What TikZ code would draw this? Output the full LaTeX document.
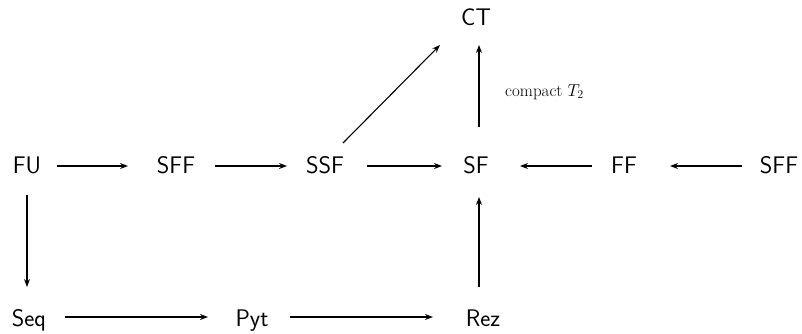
\documentclass[tikz,border=0pt]{standalone}
\usetikzlibrary{arrows.meta,calc}
\begin{document}
\begin{tikzpicture}[x=1pt,y=-1pt,
  lab/.style={font=\fontsize{24}{28}\sffamily, inner sep=0pt, anchor=base},
  arr/.style={line width=1.1pt, -{Stealth[length=8pt,width=6pt]}}]
\useasboundingbox (0,0) rectangle (802,333);
\node[lab] (CT) at (476,25) {CT};
\node[lab] (FU) at (27,173) {FU};
\node[lab] (SFFa) at (176,173) {SFF};
\node[lab] (SSF) at (325,173) {SSF};
\node[lab] (SF) at (476,173) {SF};
\node[lab] (FF) at (624,173) {FF};
\node[lab] (SFFb) at (779,173) {SFF};
\node[lab] (Seq) at (29,326) {Seq};
\node[lab] (Pyt) at (252,326) {Pyt};
\node[lab] (Rez) at (483,326) {Rez};
\node[font=\fontsize{17}{20}\selectfont, anchor=base west, inner sep=0pt] (lbl) at (505,96) {compact $T_2$};
\draw[arr] ($(FU.base)+(30,-7)$) -- ($(SFFa.base)+(-48,-7)$);
\draw[arr] ($(SFFa.base)+(39,-7)$) -- ($(SSF.base)+(-38,-7)$);
\draw[arr] ($(SSF.base)+(42,-7)$) -- ($(SF.base)+(-34,-7)$);
\draw[arr] ($(FF.base)+(-32,-7)$) -- ($(SF.base)+(44,-7)$);
\draw[arr] ($(SFFb.base)+(-37,-7)$) -- ($(FF.base)+(46,-7)$);
\draw[arr] ($(FU.base)+(0,22)$) -- ($(Seq.base)+(-2,-39)$);
\draw[arr] ($(Rez.base)+(-4,-39)$) -- ($(SF.base)+(3,24)$);
\draw[arr] ($(SF.base)+(3,-46)$) -- ($(CT.base)+(3,20)$);
\draw[arr] ($(SSF.base)+(18,-30)$) -- ($(CT.base)+(-36,20)$);
\draw[arr] ($(Seq.base)+(36,-9)$) -- ($(Pyt.base)+(-44,-9)$);
\draw[arr] ($(Pyt.base)+(38,-9)$) -- ($(Rez.base)+(-50,-9)$);
\end{tikzpicture}
\end{document}
